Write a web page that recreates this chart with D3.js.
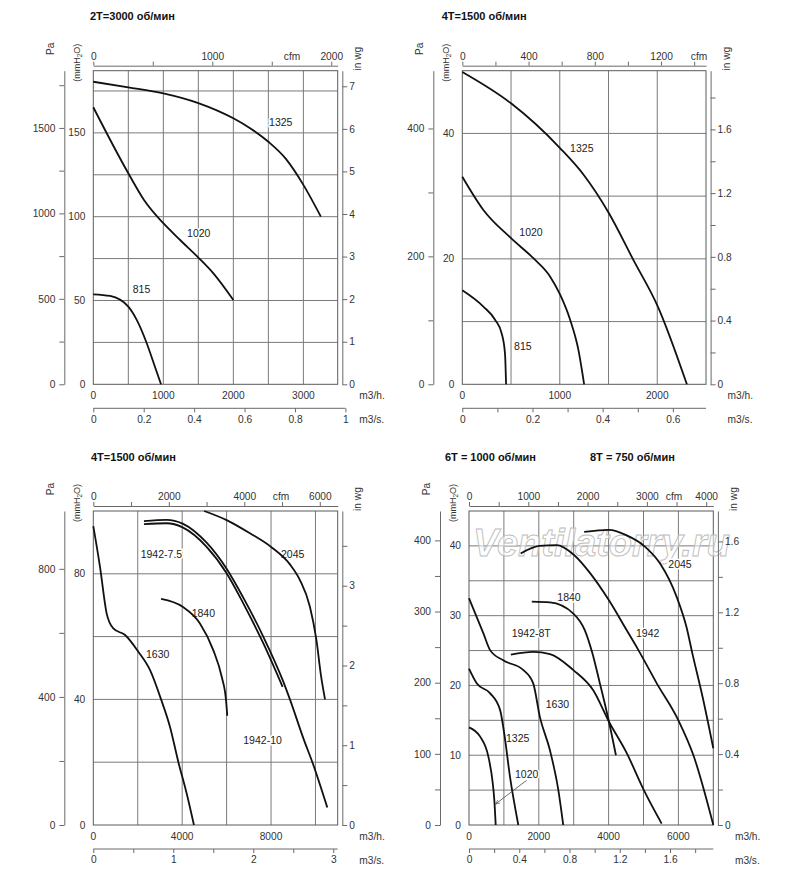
<!DOCTYPE html>
<html>
<head>
<meta charset="utf-8">
<title>Fan curves</title>
<script src="https://cdn.jsdelivr.net/npm/d3@7/dist/d3.min.js"></script>
<style>
body { margin: 0; background: #fff; }
svg { display: block; font-family: "Liberation Sans", Arial, Helvetica, sans-serif; }
</style>
</head>
<body>
<script>
// curves: [m3/h, mmH2O]
// 2T = 3000
var a1_1325 = [[0,180.5],[500,177.2],[1000,173.6],[1500,167.8],[2000,158.7],[2250,152.5],[2500,144.7],[2750,134.5],[3000,119],[3250,100]];
var a1_1020 = [[0,165.3],[500,125.9],[724,110],[1000,96.1],[1240,86.1],[1510,75.2],[1715,66.2],[2000,50.3]];
var a1_815 = [[0,53.7],[240,52.7],[500,46.3],[620,38.4],[763,24.5],[880,10.5],[967,0]];
// 4T = 1500 (small)
var a2_1325 = [[0,49.8],[500,44.8],[1000,37.7],[1250,33.3],[1500,27.4],[1756,19.8],[2006,12.4],[2304,0]];
var a2_1020 = [[0,33.1],[216,27.8],[500,23.3],[729,20.1],[900,17.2],[1006,14.2],[1106,10.3],[1191,5.5],[1250,0]];
var a2_815 = [[0,15.0],[216,12.4],[336,10.3],[404,8.1],[438,4.9],[449,0]];
// 4T = 1500 (large)
var a3_1630 = [[0,95.2],[300,82.3],[600,67.4],[900,62.6],[1430,60.5],[2025,55.2],[2550,49.4],[3050,40.0],[3450,31.3],[3830,20.0],[4200,10.1],[4530,0]];
var a3_1840 = [[3050,72.0],[4020,69.5],[4800,64.2],[5400,55.7],[5780,47.2],[5970,40.0],[6030,34.8]];
var a3_1942_75 = [[2280,95.8],[3300,96.1],[4020,94.8],[5100,88.6],[6000,80.2],[6750,70.6],[7650,57.9],[8520,44.0]];
var a3_1942_10 = [[2280,96.8],[3300,97.2],[4020,96.0],[5100,89.9],[6000,81.6],[6750,72.4],[7650,60.0],[8520,46.2],[8850,40.0],[9480,27.1],[9860,20.0],[10530,5.6]];
var a3_2045 = [[4990,100],[6000,97.1],[7050,92.9],[8030,88.4],[8850,83.0],[9300,78.0],[9750,69.5],[10040,59],[10250,47.5],[10430,40.0]];
// 6T = 1000 / 8T = 750
var a4_2045 = [[3300,42.0],[4010,42.3],[4520,41.5],[5040,39.9],[5470,37.5],[5950,32.7],[6230,28.4],[6400,24.6],[6700,18.2],[7000,11.0]];
var a4_1942 = [[1480,38.9],[2010,40.0],[2510,40.1],[3010,38.7],[3470,36.1],[4010,32.2],[4520,27.9],[4850,25.1],[5380,20.3],[6000,15.0],[6430,10.0],[7000,0]];
var a4_1840 = [[1800,32.0],[2320,31.9],[2990,30.3],[3320,27.9],[3520,24.9],[3750,20.3],[4010,14.8],[4210,10.0]];
var a4_1942_8T = [[1200,24.4],[1840,24.8],[2320,24.5],[2990,22.2],[3560,19.3],[4010,14.8],[4520,10.3],[5010,5.0],[5520,0.2]];
var a4_1630 = [[0,32.5],[410,27.5],[600,25.1],[980,23.6],[1560,22.2],[1840,20.3],[2030,15.5],[2320,10.7],[2560,5.0],[2700,0]];
var a4_1325 = [[0,22.4],[220,20.3],[600,18.9],[890,16.5],[1010,13.1],[1175,6.9],[1413,0]];
var a4_1020 = [[0,14.0],[315,12.7],[555,9.8],[680,6.0],[725,3.6],[765,0]];
var a4_callout = [[1650,6.4],[760,3.0]];

// ticks
var p1GridX = [500,1000,1500,2000,2500,3000], p1GridY = [25,50,75,100,125,150,175];
var p1MmLabels = [0,50,100,150], p1M3hLabels = [0,1000,2000,3000];
var p1PaTicks = [0,250,500,750,1000,1250,1500,1750], p1PaLabels = [0,500,1000,1500];
var p1WgTicks = [0,1,2,3,4,5,6,7], p1WgLabels = [0,1,2,3,4,5,6,7];
var p1M3sTicks = [0,0.2,0.4,0.6,0.8,1], p1M3sLabels = [0,0.2,0.4,0.6,0.8,1];
var p1CfmTicks = [0,500,1000,1500,2000], p1CfmLabels = [0,1000,2000];

var p2GridX = [500,1000,1500,2000], p2GridY = [10,20,30,40];
var p2MmLabels = [0,20,40], p2M3hLabels = [0,1000,2000];
var p2PaTicks = [0,100,200,300,400], p2PaLabels = [0,200,400];
var p2WgTicks = [0,0.2,0.4,0.6,0.8,1,1.2,1.4,1.6,1.8], p2WgLabels = [0,0.4,0.8,1.2,1.6];
var p2M3sTicks = [0,0.1,0.2,0.3,0.4,0.5,0.6], p2M3sLabels = [0,0.2,0.4,0.6];
var p2CfmTicks = [0,200,400,600,800,1000,1200,1400], p2CfmLabels = [0,400,800,1200];

var p3GridX = [2000,4000,6000,8000,10000], p3GridY = [20,40,60,80];
var p3MmLabels = [0,40,80], p3M3hLabels = [0,4000,8000];
var p3PaTicks = [0,200,400,600,800], p3PaLabels = [0,400,800];
var p3WgTicks = [0,0.5,1,1.5,2,2.5,3,3.5], p3WgLabels = [0,1,2,3];
var p3M3sTicks = [0,0.5,1,1.5,2,2.5,3], p3M3sLabels = [0,1,2,3];
var p3CfmTicks = [0,1000,2000,3000,4000,5000,6000], p3CfmLabels = [0,2000,4000,6000];

var p4GridX = [1000,2000,3000,4000,5000,6000], p4GridY = [5,10,15,20,25,30,35,40];
var p4MmLabels = [0,10,20,30,40], p4M3hLabels = [0,2000,4000,6000];
var p4PaTicks = [0,50,100,150,200,250,300,350,400], p4PaLabels = [0,100,200,300,400];
var p4WgTicks = [0,0.2,0.4,0.6,0.8,1,1.2,1.4,1.6], p4WgLabels = [0,0.4,0.8,1.2,1.6];
var p4M3sTicks = [0,0.2,0.4,0.6,0.8,1,1.2,1.4,1.6,1.8], p4M3sLabels = [0,0.4,0.8,1.2,1.6];
var p4CfmTicks = [0,500,1000,1500,2000,2500,3000,3500,4000], p4CfmLabels = [0,1000,2000,3000,4000];

var MM_PA = 9.80665, MM_WG = 25.4, CFM = 1.699, M3S = 3600;

var panels = [
    { left: 93.3, right: 337.7, top: 70.7, bottom: 384.3, xmax: 3490, ymax: 187.1,
      titles: [['2T=3000 об/мин', 90]], cfmX: 292,
      gridX: p1GridX, gridY: p1GridY, mm: p1MmLabels, m3h: p1M3hLabels,
      pa: [p1PaTicks, p1PaLabels], wg: [p1WgTicks, p1WgLabels], m3s: [p1M3sTicks, p1M3sLabels], cfm: [p1CfmTicks, p1CfmLabels],
      curves: [a1_1325, a1_1020, a1_815],
      labels: [['1325', 2510, 154.1], ['1020', 1339, 87.6], ['815', 563, 54.5]] },
    { left: 462.3, right: 706, top: 70.7, bottom: 384.3, xmax: 2500, ymax: 50,
      titles: [['4T=1500 об/мин', 441.7]], cfmX: 699,
      gridX: p2GridX, gridY: p2GridY, mm: p2MmLabels, m3h: p2M3hLabels,
      pa: [p2PaTicks, p2PaLabels], wg: [p2WgTicks, p2WgLabels], m3s: [p2M3sTicks, p2M3sLabels], cfm: [p2CfmTicks, p2CfmLabels],
      curves: [a2_1325, a2_1020, a2_815],
      labels: [['1325', 1106, 37.0], ['1020', 585, 23.65], ['815', 531, 5.47]] },
    { left: 93.3, right: 337.7, top: 511, bottom: 825, xmax: 11000, ymax: 100,
      titles: [['4T=1500 об/мин', 91]], cfmX: 281,
      gridX: p3GridX, gridY: p3GridY, mm: p3MmLabels, m3h: p3M3hLabels,
      pa: [p3PaTicks, p3PaLabels], wg: [p3WgTicks, p3WgLabels], m3s: [p3M3sTicks, p3M3sLabels], cfm: [p3CfmTicks, p3CfmLabels],
      curves: [a3_1630, a3_1840, a3_1942_75, a3_1942_10, a3_2045],
      labels: [['1942-7.5', 2133, 85.0], ['2045', 8447, 85.0], ['1840', 4428, 66.4], ['1630', 2372, 53.3], ['1942-10', 6751, 25.8]] },
    { left: 469, right: 713.3, top: 511, bottom: 825, xmax: 7000, ymax: 45,
      titles: [['6T = 1000 об/мин', 445], ['8T = 750 об/мин', 590]], cfmX: 674, watermark: 'Ventilatorry.ru',
      gridX: p4GridX, gridY: p4GridY, mm: p4MmLabels, m3h: p4M3hLabels,
      pa: [p4PaTicks, p4PaLabels], wg: [p4WgTicks, p4WgLabels], m3s: [p4M3sTicks, p4M3sLabels], cfm: [p4CfmTicks, p4CfmLabels],
      curves: [a4_2045, a4_1942, a4_1840, a4_1942_8T, a4_1630, a4_1325, a4_1020],
      callout: a4_callout,
      labels: [['2045', 5711, 36.8], ['1840', 2530, 32.1], ['1942-8T', 1223, 26.9], ['1942', 4785, 26.9],
               ['1630', 2198, 16.8], ['1325', 1060, 11.9], ['1020', 1318, 6.8]] }
];

var svg = d3.select('body').append('svg')
    .attr('width', 800)
    .attr('height', 893);

svg.append('defs').append('marker')
    .attr('id', 'arr')
    .attr('viewBox', '0 0 10 10')
    .attr('refX', 9).attr('refY', 5)
    .attr('markerWidth', 6).attr('markerHeight', 6)
    .attr('orient', 'auto')
    .append('path')
    .attr('d', 'M0,1 L9,5 L0,9')
    .attr('fill', 'none')
    .attr('stroke', '#444')
    .attr('stroke-width', 1.2);

function styleAxis(sel) {
    sel.attr('font-family', null).attr('font-size', null);
    sel.selectAll('path, line').attr('stroke', '#6a6a6a').attr('stroke-width', 1);
    sel.selectAll('text').attr('fill', '#333').style('font-size', '10.2px');
}

function labelOnly(list) {
    return function(d) { return list.indexOf(d) >= 0 ? String(d) : ''; };
}

panels.forEach(function(p) {
    var g = svg.append('g');
    var x = d3.scaleLinear().domain([0, p.xmax]).range([p.left, p.right]);
    var y = d3.scaleLinear().domain([0, p.ymax]).range([p.bottom, p.top]);
    var yPa = d3.scaleLinear().domain([0, p.ymax * MM_PA]).range([p.bottom, p.top]);
    var yWg = d3.scaleLinear().domain([0, p.ymax / MM_WG]).range([p.bottom, p.top]);
    var xCfm = d3.scaleLinear().domain([0, p.xmax / CFM]).range([p.left, p.right]);
    var xS = d3.scaleLinear().domain([0, p.xmax / M3S]).range([p.left, p.right]);

    // titles
    p.titles.forEach(function(t) {
        g.append('text')
            .attr('x', t[1]).attr('y', p.top - 50.5)
            .attr('font-size', 11).attr('font-weight', 'bold').attr('fill', '#111')
            .text(t[0]);
    });

    // grid
    g.selectAll('.gx').data(p.gridX).enter().append('line')
        .attr('x1', function(d) { return x(d); }).attr('x2', function(d) { return x(d); })
        .attr('y1', p.top).attr('y2', p.bottom)
        .attr('stroke', '#7a7a7a').attr('stroke-width', 1);
    g.selectAll('.gy').data(p.gridY).enter().append('line')
        .attr('y1', function(d) { return y(d); }).attr('y2', function(d) { return y(d); })
        .attr('x1', p.left).attr('x2', p.right)
        .attr('stroke', '#7a7a7a').attr('stroke-width', 1);
    g.append('rect')
        .attr('x', p.left).attr('y', p.top)
        .attr('width', p.right - p.left).attr('height', p.bottom - p.top)
        .attr('fill', 'none').attr('stroke', '#5a5a5a').attr('stroke-width', 1);

    // watermark
    if (p.watermark) {
        g.append('text')
            .attr('x', p.left + 4).attr('y', p.top + 45)
            .attr('font-size', 38).attr('font-style', 'italic').attr('font-weight', 'bold')
            .attr('fill', '#fff').attr('fill-opacity', 0.55)
            .attr('stroke', '#bcbcbc').attr('stroke-width', 0.9)
            .text(p.watermark);
    }

    // mmH2O labels
    g.selectAll('.mm').data(p.mm).enter().append('text')
        .attr('x', p.left - 8).attr('y', function(d) { return y(d); })
        .attr('dy', '0.35em').attr('text-anchor', 'end')
        .attr('font-size', 10.2).attr('fill', '#333')
        .text(function(d) { return d; });

    // m3/h labels
    g.selectAll('.mh').data(p.m3h).enter().append('text')
        .attr('x', function(d) { return x(d); }).attr('y', p.bottom + 15)
        .attr('text-anchor', 'middle')
        .attr('font-size', 10.2).attr('fill', '#333')
        .text(function(d) { return d; });

    // Pa axis
    g.append('g')
        .attr('transform', 'translate(' + (p.left - 29) + ',0)')
        .call(d3.axisLeft(yPa).tickValues(p.pa[0]).tickFormat(labelOnly(p.pa[1]))
            .tickSize(5).tickSizeOuter(0).tickPadding(4))
        .call(styleAxis);

    // in wg axis
    g.append('g')
        .attr('transform', 'translate(' + (p.right + 4.6) + ',0)')
        .call(d3.axisRight(yWg).tickValues(p.wg[0]).tickFormat(labelOnly(p.wg[1]))
            .tickSize(5).tickSizeOuter(0).tickPadding(2))
        .call(styleAxis);

    // cfm axis
    g.append('g')
        .attr('transform', 'translate(0,' + (p.top - 5) + ')')
        .call(d3.axisTop(xCfm).tickValues(p.cfm[0]).tickFormat(labelOnly(p.cfm[1]))
            .tickSize(4).tickSizeOuter(0).tickPadding(2))
        .call(styleAxis);

    // m3/s axis
    var sLast = p.m3s[0][p.m3s[0].length - 1];
    var sAx = g.append('g')
        .attr('transform', 'translate(0,' + (p.bottom + 24) + ')')
        .call(d3.axisBottom(xS).tickValues(p.m3s[0]).tickFormat(labelOnly(p.m3s[1]))
            .tickSize(4).tickSizeOuter(0).tickPadding(3))
        .call(styleAxis);
    sAx.select('.domain').remove();
    sAx.append('line')
        .attr('x1', p.left).attr('x2', Math.max(p.right, xS(sLast)))
        .attr('stroke', '#6a6a6a');

    // unit names
    g.append('text')
        .attr('x', p.right + 21.6).attr('y', p.bottom + 15)
        .attr('font-size', 10.2).attr('fill', '#333').text('m3/h.');
    g.append('text')
        .attr('x', p.right + 21.6).attr('y', p.bottom + 38.5)
        .attr('font-size', 10.2).attr('fill', '#333').text('m3/s.');
    g.append('text')
        .attr('x', p.cfmX).attr('y', p.top - 11)
        .attr('text-anchor', 'middle')
        .attr('font-size', 10.2).attr('fill', '#333').text('cfm');
    g.append('text')
        .attr('transform', 'translate(' + (p.left - 43) + ',' + (p.top - 22) + ') rotate(-90)')
        .attr('dy', '0.35em').attr('text-anchor', 'middle')
        .attr('font-size', 10.2).attr('fill', '#333').text('Pa');
    g.append('text')
        .attr('transform', 'translate(' + (p.right + 20) + ',' + (p.top - 12) + ') rotate(-90)')
        .attr('dy', '0.35em').attr('text-anchor', 'middle')
        .attr('font-size', 10.2).attr('fill', '#333').text('in wg');
    var mmT = g.append('text')
        .attr('transform', 'translate(' + (p.left - 16) + ',' + (p.top - 8) + ') rotate(-90)')
        .attr('dy', '0.35em').attr('text-anchor', 'middle')
        .attr('font-size', 9).attr('fill', '#333');
    mmT.append('tspan').text('(mmH');
    mmT.append('tspan').attr('font-size', 6.5).attr('dy', '2').text('2');
    mmT.append('tspan').attr('dy', '-2').text('O)');

    // curve names (white halo breaks the grid, curves go on top)
    g.selectAll('.lbl').data(p.labels).enter().append('text')
        .attr('x', function(d) { return x(d[1]); })
        .attr('y', function(d) { return y(d[2]); })
        .attr('font-size', 10.5).attr('fill', '#222')
        .attr('stroke', '#fff').attr('stroke-width', 3).attr('paint-order', 'stroke')
        .text(function(d) { return d[0]; });

    // curves
    var line = d3.line()
        .x(function(d) { return x(d[0]); })
        .y(function(d) { return y(d[1]); })
        .curve(d3.curveMonotoneX);
    g.selectAll('.curve').data(p.curves).enter().append('path')
        .attr('d', line)
        .attr('fill', 'none')
        .attr('stroke', '#111')
        .attr('stroke-width', 1.8)
        .attr('stroke-linejoin', 'round');

    if (p.callout) {
        g.append('line')
            .attr('x1', x(p.callout[0][0])).attr('y1', y(p.callout[0][1]))
            .attr('x2', x(p.callout[1][0])).attr('y2', y(p.callout[1][1]))
            .attr('stroke', '#444').attr('stroke-width', 0.8)
            .attr('marker-end', 'url(#arr)');
    }
});
</script>
</body>
</html>
